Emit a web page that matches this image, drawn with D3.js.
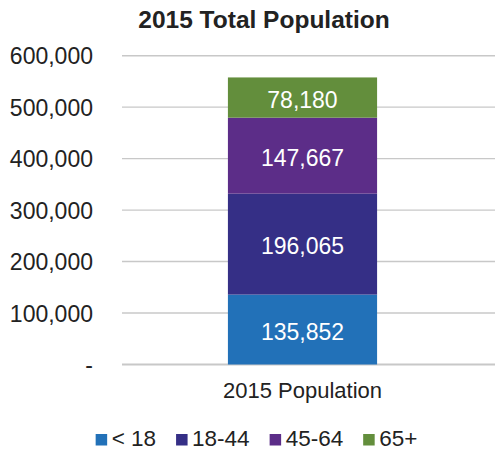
<!DOCTYPE html>
<html><head><meta charset="utf-8">
<script src="https://cdn.jsdelivr.net/npm/d3@7"></script>
<style>body{margin:0;background:#fff}svg{display:block}text{font-family:"Liberation Sans",Arial,Helvetica,sans-serif}</style>
</head><body>
<svg id="c" width="495" height="454"></svg>
<script>
const title = "2015 Total Population";
const categories = ["2015 Population"];
const seriesNames = ["< 18", "18-44", "45-64", "65+"];
const seriesValues = [135852, 196065, 147667, 78180];
const seriesColors = ["#2271b8", "#352f86", "#5c2d88", "#638e3c"];
const tickValues = [0, 100000, 200000, 300000, 400000, 500000, 600000];
const tickLabels = ["-", "100,000", "200,000", "300,000", "400,000", "500,000", "600,000"];

const svg = d3.select("#c");
const y = d3.scaleLinear().domain([0, 600000]).range([364.5, 55.7]);
const x = d3.scaleBand().domain(categories).range([122, 483]).paddingInner(0).paddingOuter(0.71);

svg.append("text").attr("x", 264).attr("y", 28).attr("text-anchor", "middle")
  .attr("font-size", 24.5).attr("font-weight", "bold").attr("fill", "#222").text(title);

// gridlines
svg.append("g").selectAll("line").data(tickValues).join("line")
  .attr("x1", 122).attr("x2", 495)
  .attr("y1", d => y(d)).attr("y2", d => y(d))
  .attr("stroke", "#c8c8c8").attr("stroke-width", d => d === 0 ? 2 : 1.4);

// y axis labels
const yAxis = d3.axisLeft(y).tickValues(tickValues).tickSize(0).tickPadding(0)
  .tickFormat((d, i) => tickLabels[i]);
const ya = svg.append("g").attr("transform", "translate(93,0)").call(yAxis);
ya.select(".domain").remove();
ya.selectAll("text").attr("font-size", 23).attr("fill", "#222")
  .attr("font-family", '"Liberation Sans",Arial,sans-serif').attr("dy", "0.36em");

// stacked bar
const row = {cat: categories[0]};
seriesNames.forEach((s, i) => row[s] = seriesValues[i]);
const stack = d3.stack().keys(seriesNames)([row]);
const g = svg.append("g");
stack.forEach((layer, i) => {
  layer.forEach(d => {
    g.append("rect").attr("x", x(d.data.cat)).attr("width", x.bandwidth())
      .attr("y", y(d[1])).attr("height", y(d[0]) - y(d[1])).attr("fill", seriesColors[i]);
    g.append("text").attr("x", x(d.data.cat) + x.bandwidth() / 2)
      .attr("y", (y(d[0]) + y(d[1])) / 2).attr("dy", "0.45em")
      .attr("text-anchor", "middle").attr("font-size", 23).attr("fill", "#fff")
      .text(d3.format(",")(seriesValues[i]));
  });
});

// x axis label
const xAxis = d3.axisBottom(x).tickSize(0).tickPadding(0);
const xa = svg.append("g").attr("transform", "translate(0,380)").call(xAxis);
xa.select(".domain").remove();
xa.selectAll("text").attr("font-size", 22).attr("fill", "#222")
  .attr("font-family", '"Liberation Sans",Arial,sans-serif').attr("dy", "0.8em");

// legend
const leg = svg.append("g");
let cx = 0;
seriesNames.forEach((s, i) => {
  const it = leg.append("g").attr("transform", `translate(${cx},0)`);
  it.append("rect").attr("x", 0).attr("y", -12).attr("width", 11.5).attr("height", 11.5).attr("fill", seriesColors[i]);
  const t = it.append("text").attr("x", 16).attr("y", 0).attr("font-size", 22.5).attr("fill", "#222").text(s);
  const w = t.node().getComputedTextLength();
  cx += 16 + w + 20;
});
const total = cx - 20;
leg.attr("transform", `translate(${256.5 - total / 2},446)`);
</script>
</body></html>
